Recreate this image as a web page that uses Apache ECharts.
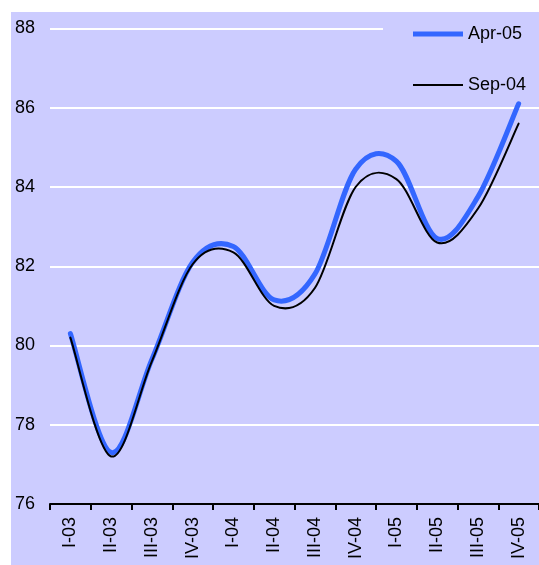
<!DOCTYPE html>
<html>
<head>
<meta charset="utf-8">
<script src="https://cdn.jsdelivr.net/npm/echarts@6/dist/echarts.min.js"></script>
<style>
html,body{margin:0;padding:0;background:#fff;}
#chart{width:539px;height:565px;}
</style>
</head>
<body>
<div id="chart"></div>
<script>
var categories = ['I-03','II-03','III-03','IV-03','I-04','II-04','III-04','IV-04','I-05','II-05','III-05','IV-05'];
var apr05 = [80.3, 77.3, 79.65, 82.1, 82.5, 81.15, 81.8, 84.45, 84.65, 82.7, 83.75, 86.1];
var sep04 = [80.2, 77.2, 79.6, 82.05, 82.35, 81.0, 81.45, 84.0, 84.2, 82.6, 83.45, 85.6];
var yTicks = [76, 78, 80, 82, 84, 86, 88];

var font = 'Liberation Sans, Arial, sans-serif';

// Smooth curve (Catmull-Rom style, like a spreadsheet "smoothed line") built from
// the pixel positions that the axes give for each data point.
function smoothRenderer(values, color, width) {
  return function (params, api) {
    if (params.dataIndex !== 0) return null;
    var pts = [];
    for (var i = 0; i < values.length; i++) pts.push(api.coord([i, values[i]]));
    var n = pts.length;
    var d = 'M' + pts[0][0] + ',' + pts[0][1];
    for (var k = 0; k < n - 1; k++) {
      var p0 = pts[Math.max(k - 1, 0)], p1 = pts[k], p2 = pts[k + 1], p3 = pts[Math.min(k + 2, n - 1)];
      var c1x = p1[0] + (p2[0] - p0[0]) / 6, c1y = p1[1] + (p2[1] - p0[1]) / 6;
      var c2x = p2[0] - (p3[0] - p1[0]) / 6, c2y = p2[1] - (p3[1] - p1[1]) / 6;
      d += ' C' + c1x + ',' + c1y + ' ' + c2x + ',' + c2y + ' ' + p2[0] + ',' + p2[1];
    }
    return {
      type: 'path',
      shape: {pathData: d},
      style: {fill: 'none', stroke: color, lineWidth: width, lineCap: 'round', lineJoin: 'round'}
    };
  };
}

function toData(values) {
  return values.map(function (v, i) { return [i, v]; });
}

var chart = echarts.init(document.getElementById('chart'), null, {renderer:'canvas'});
chart.setOption({
  animation: false,
  backgroundColor: '#ffffff',
  graphic: [{
    type: 'rect', left: 11, top: 12, z: -10,
    shape: {width: 528, height: 553},
    style: {fill: '#ccccff'}
  }],
  grid: {left: 50, top: 28.5, width: 500, bottom: 61, containLabel: false},
  legend: {
    orient: 'vertical', left: 383, top: 20,
    padding: [5, 20, 5, 30],
    backgroundColor: '#ccccff',
    itemWidth: 50, itemHeight: 16, itemGap: 33,
    textStyle: {fontFamily: font, fontSize: 18, color: '#000'},
    data: [
      {name: 'Apr-05', icon: 'path://M0,0 L50,0 L50,5 L0,5 Z'},
      {name: 'Sep-04', icon: 'path://M0,0 L50,0 L50,2 L0,2 Z'}
    ]
  },
  xAxis: {
    type: 'category', data: categories, boundaryGap: true,
    axisLine: {lineStyle: {color: '#000', width: 2}},
    axisTick: {show: true, length: 6, lineStyle: {color: '#000', width: 2}},
    axisLabel: {rotate: 90, margin: 13, fontFamily: font, fontSize: 18, color: '#000', interval: 0},
    splitLine: {show: false}
  },
  yAxis: {
    type: 'value', min: yTicks[0], max: yTicks[yTicks.length-1], interval: 2,
    axisLine: {show: false}, axisTick: {show: false},
    axisLabel: {margin: 15, fontFamily: font, fontSize: 18, color: '#000'},
    splitLine: {show: true, lineStyle: {color: '#ffffff', width: 2}}
  },
  series: [
    {name: 'Apr-05', type: 'custom', data: toData(apr05), z: 1,
     encode: {x: 0, y: 1},
     itemStyle: {color: '#3366ff'},
     renderItem: smoothRenderer(apr05, '#3366ff', 5)},
    {name: 'Sep-04', type: 'custom', data: toData(sep04), z: 2,
     encode: {x: 0, y: 1},
     itemStyle: {color: '#000000'},
     renderItem: smoothRenderer(sep04, '#000000', 2)}
  ]
});
</script>
</body>
</html>
